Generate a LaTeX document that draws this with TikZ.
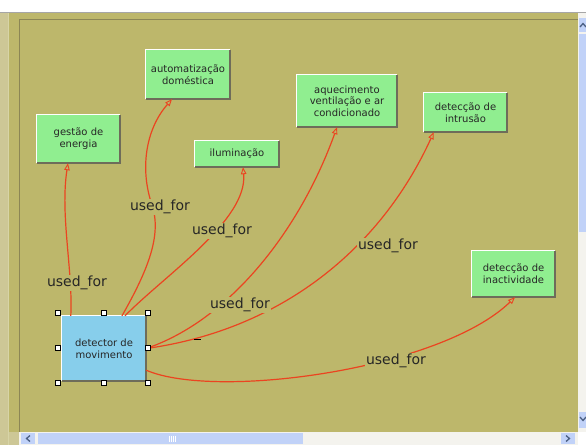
\documentclass[tikz,border=0pt]{standalone}
\usepackage{fontspec}
\setmainfont{DejaVu Sans}
\usetikzlibrary{arrows.meta}
\definecolor{bgk}{RGB}{189,183,107}
\definecolor{bgl}{RGB}{205,199,150}
\definecolor{ngreen}{RGB}{144,238,144}
\definecolor{nblue}{RGB}{135,206,235}
\definecolor{edgec}{RGB}{235,68,32}
\definecolor{shadowc}{RGB}{110,108,90}
\definecolor{sbblue}{RGB}{193,210,248}
\definecolor{sbtrack}{RGB}{244,243,238}
\definecolor{framec}{RGB}{140,134,85}
\definecolor{glyph}{RGB}{77,97,133}
\begin{document}
\begin{tikzpicture}[x=1pt,y=-1pt,
  cbox/.style={fill=ngreen, align=center, font=\fontsize{10}{11.7}\selectfont, text=black!85, inner sep=0pt},
  ulabel/.style={fill=bgk, inner sep=1.5pt, font=\fontsize{14}{16}\selectfont, text=black!85},
  rel/.style={draw=edgec, line width=1.2pt, -{Triangle[open, length=7pt, width=5.5pt, fill=bgk, line width=0.9pt]}},
  handle/.style={draw=black, fill=white, minimum size=5pt, inner sep=0pt, line width=0.6pt},
  hiedge/.style={draw=white, line width=1.2pt},
  loedge/.style={draw=shadowc, line width=1.5pt},
  sbglyph/.style={draw=glyph, line width=1.3pt}]
\useasboundingbox (0,0) rectangle (586,445);
% window frame
\fill[white] (0,0) rectangle (586,445);
\fill[bgl] (0,13) rectangle (19,445);
\fill[bgk] (9,13) rectangle (578,432);
\draw[gray!70, line width=1.2pt] (0,12.5) -- (586,12.5);
\draw[white!40!bgk, line width=0.8pt] (8.5,13) -- (8.5,445);
\draw[framec, line width=1pt] (19,432) -- (19,19) -- (578,19);
% horizontal scrollbar
\fill[sbtrack] (19,432) rectangle (578,445);
\fill[sbblue] (21,433) rectangle (35,444);
\fill[sbblue] (38,433) rectangle (303,444);
\fill[sbblue] (561,433) rectangle (575,444);
\draw[sbglyph] (30,435.5) -- (26.5,438.5) -- (30,441.5);
\draw[sbglyph] (566,435.5) -- (569.5,438.5) -- (566,441.5);
\foreach \gx in {169,171,173,175} \draw[white, line width=0.5pt] (\gx,435.5) -- (\gx,441.5);
% vertical scrollbar
\fill[sbtrack] (578,13) rectangle (586,432);
\fill[sbblue] (579,18) rectangle (586,32);
\fill[sbblue] (579,34) rectangle (586,232);
\fill[sbblue] (579,412) rectangle (586,428);
\draw[sbglyph] (580,27) -- (583,23.5) -- (586,27);
\draw[sbglyph] (580,417) -- (583,420.5) -- (586,417);
% concept nodes
\node[cbox, minimum width=83pt, minimum height=48pt] (gest) at (78.5,139) {gestão de\\energia};
\node[cbox, minimum width=84pt, minimum height=49pt] (auto) at (188,74.5) {automatização\\doméstica};
\node[cbox, minimum width=84pt, minimum height=26pt] (ilum) at (237,154) {iluminação};
\node[cbox, minimum width=100pt, minimum height=52pt] (aquec) at (347,101) {aquecimento\\ventilação e ar\\condicionado};
\node[cbox, minimum width=83pt, minimum height=39pt] (intr) at (465.5,112.5) {detecção de\\intrusão};
\node[cbox, minimum width=83pt, minimum height=46pt] (inact) at (513.5,274) {detecção de\\inactividade};
\node[cbox, fill=nblue, minimum width=84pt, minimum height=65pt] (det) at (104,348.5) {detector de\\movimento};
\foreach \n in {gest,auto,ilum,aquec,intr,inact,det}{
  \draw[hiedge] (\n.south west) -- (\n.north west) -- (\n.north east);
  \draw[loedge] (\n.north east) -- (\n.south east) -- (\n.south west);
}
% connectors
\draw[rel] ([xshift=9pt]det.north west) .. controls (73,270) and (60,215) .. ([xshift=-10.5pt]gest.south);
\draw[rel] ([xshift=18pt]det.north) .. controls (148,270) and (162,235) .. (152,205)
  .. controls (140,170) and (145,130) .. ([xshift=-16pt]auto.south);
\draw[rel] ([xshift=21pt]det.north) .. controls (165,275) and (248,220) .. ([xshift=6pt]ilum.south);
\draw[rel] (det.east) .. controls (230,320) and (300,230) .. ([xshift=-10pt]aquec.south);
\draw[rel] (det.east) .. controls (280,330) and (380,250) .. ([xshift=10pt]intr.south west);
\draw[rel] ([yshift=11pt]det.south east) .. controls (215,400) and (440,370) .. ([xshift=1.5pt]inact.south);
\draw[black, line width=1.4pt] (194,339.5) -- (201,339.5);
% labels
\node[ulabel] (l1) at (77,283) {used\_for};
\node[ulabel] (l2) at (160,207) {used\_for};
\node[ulabel] (l3) at (222,231) {used\_for};
\node[ulabel] (l4) at (240,305) {used\_for};
\node[ulabel] (l5) at (388,246) {used\_for};
\node[ulabel] (l6) at (396,361) {used\_for};
% selection handles
\foreach \hx/\hy [count=\i] in {58/313,104/313,148/313,58/348,148/348,58/383,104/383,148/383}
  \node[handle] (h\i) at (\hx,\hy) {};
\end{tikzpicture}
\end{document}
